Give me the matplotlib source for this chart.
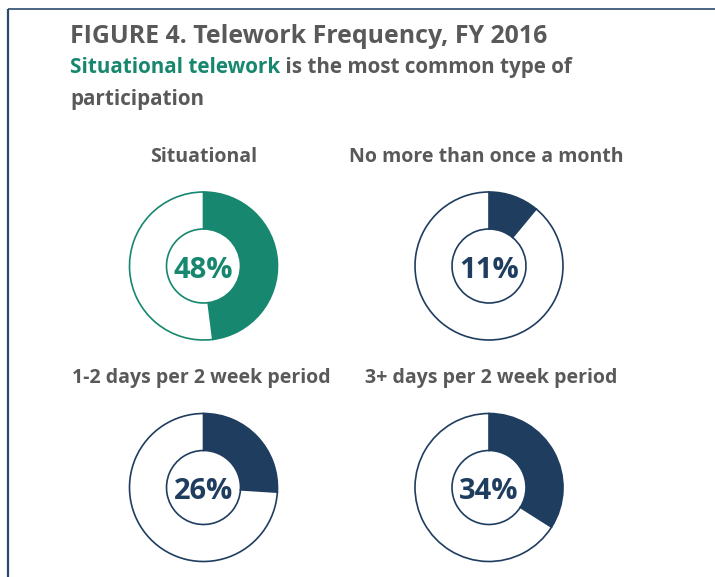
import matplotlib.pyplot as plt

plt.rcParams['font.family'] = ['Open Sans', 'DejaVu Sans']

W, H = 715, 577

# data
categories = ["Situational", "No more than once a month",
              "1-2 days per 2 week period", "3+ days per 2 week period"]
shares = [48, 11, 26, 34]

title = "FIGURE 4. Telework Frequency, FY 2016"
sub_hi = "Situational telework"
sub_rest = " is the most common type of"
sub_line2 = "participation"

teal = "#17876f"
navy = "#1f3d5f"
gray = "#595959"
colors = [teal, navy, navy, navy]

fig = plt.figure(figsize=(7.15, 5.77), dpi=100)
ax = fig.add_axes([0, 0, 1, 1])

# donut layout in pixels (y measured from top)
centers = [(203.5, 266), (489, 266), (203.5, 487.5), (489, 487.5)]
label_pos = [(203.5, 162), (486, 162), (201.5, 383), (491, 383)]
r_out, r_in = 74, 37

for i, v in enumerate(shares):
    cx, cy = centers[i]
    c = colors[i]
    ax.pie([v, 100 - v], colors=[c, "white"], startangle=90, counterclock=False,
           center=(cx, H - cy), radius=r_out, frame=True,
           wedgeprops=dict(width=r_out - r_in, edgecolor=c, linewidth=1.2))
    ax.text(cx, H - cy - 11.5, f"{v}%", ha="center", va="baseline",
            fontsize=21, fontweight="bold", color=c)
    lx, ly = label_pos[i]
    ax.text(lx, H - ly, categories[i], ha="center", va="baseline",
            fontsize=14, fontweight="bold", color=gray)

# titles
ax.text(70, H - 43, title, fontsize=17.9, fontweight="bold", color=gray, va="baseline")
t1 = ax.text(70, H - 73, sub_hi, fontsize=14.9, fontweight="bold", color=teal, va="baseline")
ax.annotate(sub_rest, xy=(1, 0), xycoords=t1, ha="left", va="bottom",
            fontsize=14.9, fontweight="bold", color=gray)
ax.text(70, H - 105, sub_line2, fontsize=14.9, fontweight="bold", color=gray, va="baseline")

# frame lines
ax.plot([7.5, 7.5], [0, H - 9], color="#2b4a6e", lw=1.6, solid_capstyle="butt")
ax.plot([7.5, W], [H - 9, H - 9], color="#2b4a6e", lw=1.2, solid_capstyle="butt")

ax.set_xlim(0, W)
ax.set_ylim(0, H)
ax.set_aspect("auto")
ax.axis("off")

fig.savefig("out.png", dpi=100)
